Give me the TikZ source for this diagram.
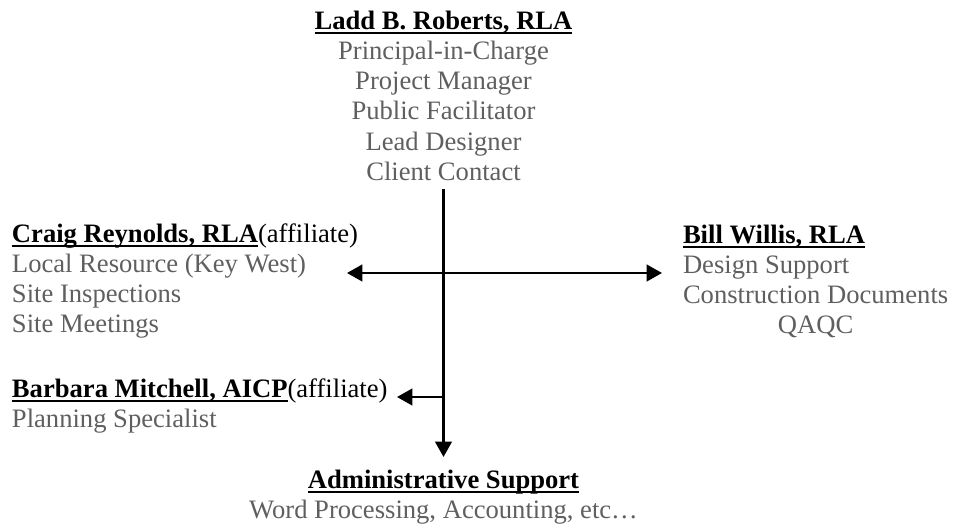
\documentclass[tikz,border=0pt]{standalone}
\usepackage{fontspec}
\setmainfont{Liberation Serif}
\usetikzlibrary{arrows.meta}
\definecolor{txtgray}{RGB}{95,95,95}
\newcommand\graytxt[1]{\textcolor{txtgray}{#1}}
\newcommand\ulx[1]{\setbox0\hbox{#1}\rlap{\rule[-3.9pt]{\wd0}{1.5pt}}\box0}
\begin{document}
\begin{tikzpicture}[x=0.75pt,y=-0.75pt,
  block/.style={inner sep=0pt, outer sep=0pt, font=\fontsize{19.95}{22.7}\selectfont},
  conn/.style={line width=1.6pt},
  tip/.style={-{Triangle[length=11.5pt,width=12.5pt]}}]
\useasboundingbox (0,0) rectangle (954,525);

\node[block,anchor=base] (ladd) at (443.5,29) {\begin{tabular}[t]{@{}c@{}}
\textbf{\ulx{Ladd B. Roberts, RLA}}\\
\graytxt{Principal-in-Charge}\\
\graytxt{Project Manager}\\
\graytxt{Public Facilitator}\\
\graytxt{Lead Designer}\\
\graytxt{Client Contact}
\end{tabular}};

\node[block,anchor=base west] (craig) at (12,242) {\begin{tabular}[t]{@{}l@{}}
\textbf{\ulx{Craig Reynolds, RLA}}(affiliate)\\
\graytxt{Local Resource (Key West)}\\
\graytxt{Site Inspections}\\
\graytxt{Site Meetings}
\end{tabular}};

\node[block,anchor=base west] (bill) at (683,243) {\begin{tabular}[t]{@{}l@{}}
\textbf{\ulx{Bill Willis, RLA}}\\
\graytxt{Design Support}\\
\graytxt{Construction Documents}\\
\multicolumn{1}{@{}c@{}}{\graytxt{QAQC}}
\end{tabular}};

\node[block,anchor=base west] (barbara) at (12,397) {\begin{tabular}[t]{@{}l@{}}
\textbf{\ulx{Barbara Mitchell, AICP}}(affiliate)\\
\graytxt{Planning Specialist}
\end{tabular}};

\node[block,anchor=base] (admin) at (443.5,488) {\begin{tabular}[t]{@{}c@{}}
\textbf{\ulx{Administrative Support}}\\
\graytxt{Word Processing, Accounting, etc…}
\end{tabular}};

\coordinate (j1) at (443.5,273);
\coordinate (j2) at (443.5,397);
\coordinate (ctip) at (347,273);
\coordinate (btip) at (662,273);
\coordinate (mtip) at (397,397);

\draw[conn,tip,shorten >=7.4pt] (ladd.south) -- (admin.north);
\draw[conn,tip] (j1) -- (ctip);
\draw[conn,tip] (j1) -- (btip);
\draw[conn,tip] (j2) -- (mtip);
\end{tikzpicture}
\end{document}
